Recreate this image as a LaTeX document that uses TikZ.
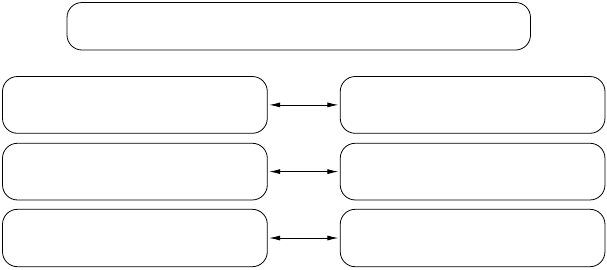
\documentclass[tikz,border=0pt]{standalone}
\usetikzlibrary{arrows.meta}
\begin{document}
\begin{tikzpicture}[x=1pt,y=-1pt,
  box/.style={draw,line width=0.8pt,rounded corners=15pt,inner sep=0pt},
  link/.style={line width=0.8pt,{Latex[length=11pt,width=5pt]}-{Latex[length=11pt,width=5pt]},shorten <=1.5pt,shorten >=1.5pt}]
\useasboundingbox (0,0) rectangle (607,269);
\node[box,minimum width=463.5pt,minimum height=47.5pt] (top) at (298.75,26.25) {};
\node[box,minimum width=264.8pt,minimum height=56.8pt] (l1) at (134.9,104.9) {};
\node[box,minimum width=264.8pt,minimum height=56.7pt] (l2) at (134.9,171.6) {};
\node[box,minimum width=264.8pt,minimum height=57.4pt] (l3) at (134.9,238) {};
\node[box,minimum width=264.7pt,minimum height=56.8pt] (r1) at (472.6,104.9) {};
\node[box,minimum width=264.7pt,minimum height=56.7pt] (r2) at (472.6,171.6) {};
\node[box,minimum width=264.7pt,minimum height=57.4pt] (r3) at (472.6,238) {};
\draw[link] (l1.east) -- (r1.west);
\draw[link] (l2.east) -- (r2.west);
\draw[link] (l3.east) -- (r3.west);
\end{tikzpicture}
\end{document}
